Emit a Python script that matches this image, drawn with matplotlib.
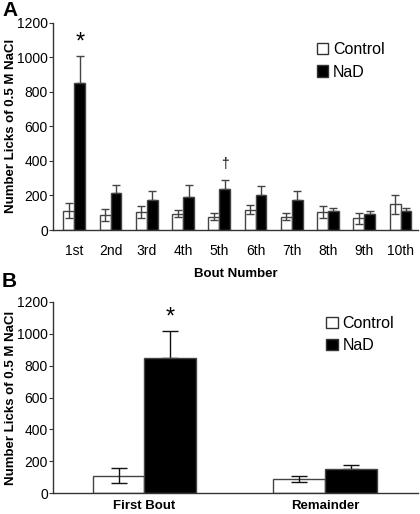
import matplotlib
matplotlib.use("Agg")
import matplotlib.pyplot as plt
from matplotlib.patches import Rectangle
import numpy as np

plt.rcParams['font.family'] = ['Liberation Sans', 'DejaVu Sans']

bouts = ["1st", "2nd", "3rd", "4th", "5th", "6th", "7th", "8th", "9th", "10th"]
control_a = [112, 85, 103, 95, 78, 118, 78, 103, 68, 150]
control_a_err = [45, 35, 35, 18, 18, 25, 22, 35, 33, 55]
nad_a = [849, 213, 175, 192, 235, 200, 175, 108, 95, 112]
nad_a_err = [156, 45, 48, 68, 57, 52, 48, 22, 17, 17]

groups_b = ["First Bout", "Remainder"]
control_b = [110, 92]
control_b_err = [46, 18]
nad_b = [849, 152]
nad_b_err = [165, 28]

yticks = [0, 200, 400, 600, 800, 1000, 1200]
ylabel = "Number Licks of 0.5 M NaCl"

fig = plt.figure(figsize=(4.2, 5.14), dpi=100)
axA = fig.add_axes([0.127, 0.5525, 0.868, 0.4035])
axB = fig.add_axes([0.127, 0.0402, 0.868, 0.3728])


def draw(ax, n, ctrl, cerr, nad, nerr, width, xlim, cap, ecol):
    x = np.arange(n)
    ax.bar(x - width / 2, ctrl, width, color='white', edgecolor='#444444', linewidth=1.0, zorder=2)
    ax.bar(x + width / 2, nad, width, color='black', edgecolor='#444444', linewidth=1.0, zorder=2)
    ax.errorbar(x - width / 2, ctrl, yerr=cerr, fmt='none', ecolor=ecol, elinewidth=1.0,
                capsize=cap, capthick=1.0, zorder=3)
    ax.errorbar(x + width / 2, nad, yerr=[np.zeros(n), nerr], fmt='none', ecolor=ecol,
                elinewidth=1.0, capsize=cap, capthick=1.0, zorder=1)
    ax.set_xlim(*xlim)
    ax.set_ylim(0, 1200)
    ax.set_yticks(yticks)
    ax.spines['top'].set_visible(False)
    ax.spines['right'].set_visible(False)
    for s in ('left', 'bottom'):
        ax.spines[s].set_color('#333333')
        ax.spines[s].set_linewidth(1.0)
    ax.tick_params(axis='y', labelsize=10, length=3, color='#333333', pad=1)
    ax.tick_params(axis='x', length=0)
    ax.set_ylabel(ylabel, fontsize=9.5, fontweight='bold')
    ax.yaxis.set_label_coords(-0.1, 0.5)
    return x


xa = draw(axA, len(bouts), control_a, control_a_err, nad_a, nad_a_err, 0.30, (-0.58, 9.48), 3, '#444444')
axA.set_xticks(xa)
axA.set_xticklabels(bouts, fontsize=10)
axA.tick_params(axis='x', pad=10)
axA.set_xlabel("Bout Number", fontsize=9.5, fontweight='bold', labelpad=7)
axA.text(xa[0] + 0.15, 1082, "*", fontsize=17, ha='center', va='center')
axA.text(xa[4] + 0.15, 382, "\u2020", fontsize=10, ha='center', va='center')

xb = draw(axB, len(groups_b), control_b, control_b_err, nad_b, nad_b_err, 0.286, (-0.505, 1.515), 6, '#111111')
axB.set_xticks(xb)
axB.set_xticklabels(groups_b, fontsize=9.5, fontweight='bold')
axB.tick_params(axis='x', pad=5)
axB.text(xb[0] + 0.143, 1104, "*", fontsize=17, ha='center', va='center')

for ax, loc in ((axA, (0.723, 0.905)), (axB, (0.749, 0.925))):
    h = [Rectangle((0, 0), 1, 1, facecolor='white', edgecolor='#333333', linewidth=1.0),
         Rectangle((0, 0), 1, 1, facecolor='black', edgecolor='#333333', linewidth=1.0)]
    ax.legend(h, ["Control", "NaD"], loc='upper left', bbox_to_anchor=loc, frameon=False,
              fontsize=11.5, handlelength=0.7, handleheight=0.7, handletextpad=0.3,
              labelspacing=0.45, borderaxespad=0, borderpad=0)

fig.text(0.005, 0.998, "A", fontsize=15, fontweight='bold', va='top', ha='left')
fig.text(0.005, 0.470, "B", fontsize=15, fontweight='bold', va='top', ha='left')

fig.savefig("out.png", dpi=100)
